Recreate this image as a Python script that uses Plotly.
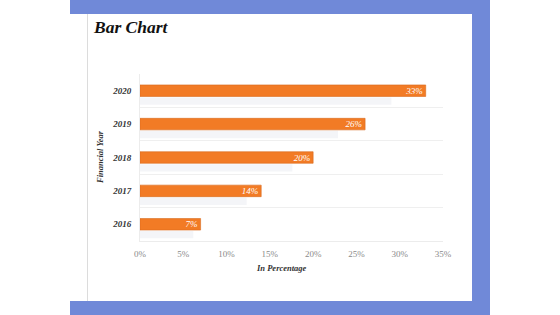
import plotly.graph_objects as go

years = ["2016", "2017", "2018", "2019", "2020"]
values = [7, 14, 20, 26, 33]
labels = ["7%", "14%", "20%", "26%", "33%"]
x_ticks = [0, 5, 10, 15, 20, 25, 30, 35]
x_tick_text = ["0%", "5%", "10%", "15%", "20%", "25%", "30%", "35%"]

W, H = 560, 315
L, R, T, B = 140, 117, 74, 74
PW, PH = W - L - R, H - T - B


def px(x):
    return (x - L) / PW


def py(y):
    return 1 - (y - T) / PH


SERIF = "Liberation Serif, Times New Roman, serif"
ORANGE = "#f27b25"
BLUE = "#7089d8"

fig = go.Figure()

# faint shadow under each bar
fig.add_trace(go.Bar(
    y=years, x=[v * 0.88 for v in values], orientation="h",
    marker=dict(color="#f4f5f8", line=dict(width=0)),
    width=0.22, offset=-0.42, hoverinfo="skip", showlegend=False,
))

fig.add_trace(go.Bar(
    y=years, x=values, orientation="h",
    marker=dict(color=ORANGE, line=dict(color="#d9691c", width=0.6)),
    width=0.345,
    text=labels, textposition="inside", insidetextanchor="end",
    constraintext="none",
    textfont=dict(family=SERIF, size=9, color="white", style="italic"),
    showlegend=False,
))

fig.update_layout(
    width=W, height=H,
    margin=dict(l=L, r=R, t=T, b=B),
    paper_bgcolor="white", plot_bgcolor="white",
    barmode="overlay",
    xaxis=dict(
        range=[0, 35], tickvals=x_ticks, ticktext=x_tick_text,
        showgrid=False, zeroline=False, showline=True, linecolor="#ececec", linewidth=1,
        tickfont=dict(family=SERIF, size=9, color="#8a8a8a"),
        ticks="", ticklabelstandoff=4,
    ),
    yaxis=dict(
        type="category", categoryorder="array", categoryarray=years,
        tickson="boundaries", showgrid=True, gridcolor="#efefef", gridwidth=1,
        showline=True, linecolor="#ececec", zeroline=False,
        tickfont=dict(family=SERIF, size=9, color="#333333", style="italic", weight="bold"),
        ticks="", ticklabelstandoff=6,
        range=[-0.5, 4.5],
    ),
    shapes=[
        # blue frame
        dict(type="rect", xref="paper", yref="paper", x0=px(70), x1=px(490), y0=py(0), y1=py(14),
             fillcolor=BLUE, line=dict(width=0), layer="below"),
        dict(type="rect", xref="paper", yref="paper", x0=px(472), x1=px(490), y0=py(0), y1=py(315),
             fillcolor=BLUE, line=dict(width=0), layer="below"),
        dict(type="rect", xref="paper", yref="paper", x0=px(70), x1=px(490), y0=py(301), y1=py(315),
             fillcolor=BLUE, line=dict(width=0), layer="below"),
        dict(type="line", xref="paper", yref="paper", x0=px(87.5), x1=px(87.5), y0=py(14), y1=py(301),
             line=dict(color="#dcdcdc", width=1), layer="below"),
    ],
    annotations=[
        dict(text="<b><i>Bar Chart</i></b>", xref="paper", yref="paper", x=px(91), y=py(27),
             xanchor="left", yanchor="middle", showarrow=False,
             font=dict(family=SERIF, size=17.5, color="#111111")),
        dict(text="<b><i>Financial Year</i></b>", xref="paper", yref="paper", x=px(100), y=py(157),
             xanchor="center", yanchor="middle", showarrow=False, textangle=-90,
             font=dict(family=SERIF, size=8.5, color="#333333")),
        dict(text="<b><i>In Percentage</i></b>", xref="paper", yref="paper", x=px(281), y=py(268),
             xanchor="center", yanchor="middle", showarrow=False,
             font=dict(family=SERIF, size=8.5, color="#333333")),
    ],
)

fig.write_html("out.html")
